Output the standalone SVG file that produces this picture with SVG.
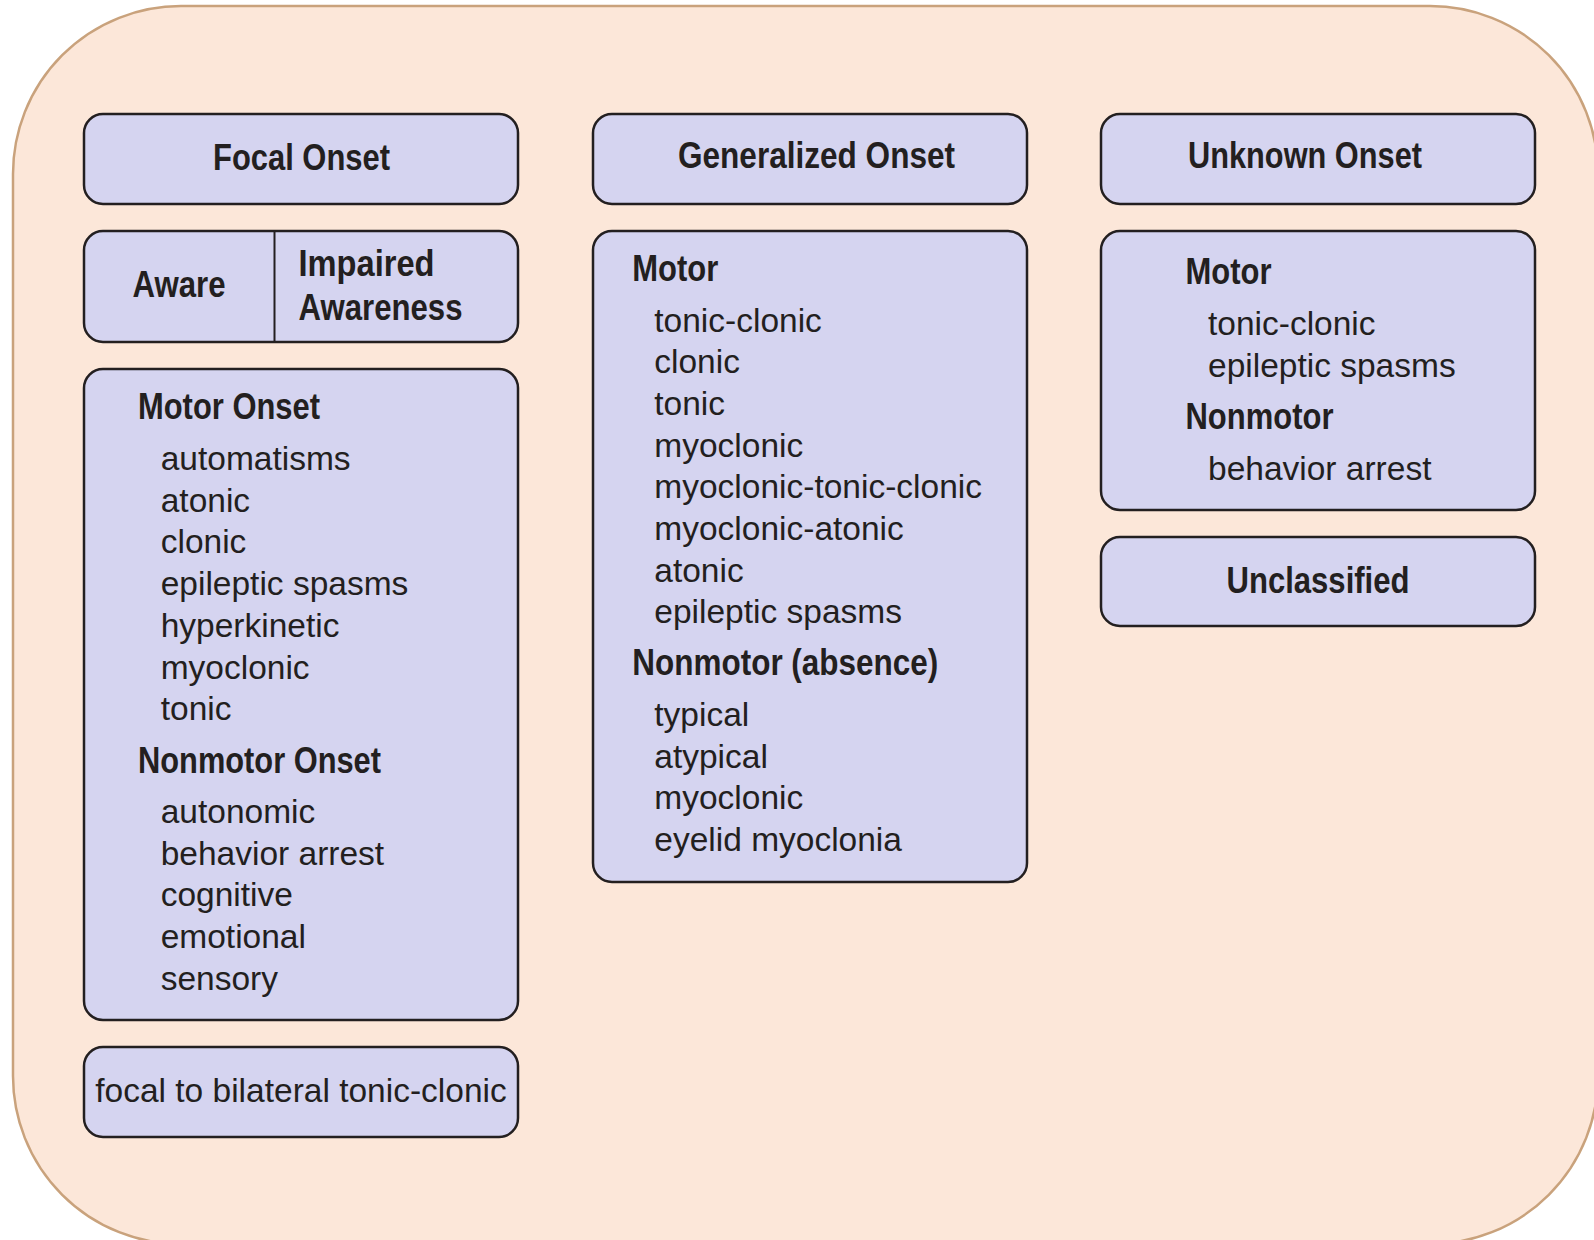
<svg xmlns="http://www.w3.org/2000/svg" width="1594" height="1240" viewBox="0 0 1594 1240">
<style>
.bg{fill:#fce7d9;stroke:#c9a27c;stroke-width:2.5}
.box{fill:#d5d4f0;stroke:#231f20;stroke-width:2.5}
.h{font-family:"Liberation Sans",Arial,sans-serif;font-weight:bold;font-size:36px;fill:#231f20}
.t{font-family:"Liberation Sans",Arial,sans-serif;font-size:33.5px;fill:#231f20}
.c{text-anchor:middle}
</style>
<rect class="bg" x="13" y="6" width="1585" height="1238" rx="168" ry="168"/>
<g id="focal-onset">
<rect class="box" x="84" y="114" width="434" height="90" rx="19"/>
<text class="h c" x="301.5" y="170" textLength="177" lengthAdjust="spacingAndGlyphs">Focal Onset</text>
</g>
<g id="awareness">
<rect class="box" x="84" y="231" width="434" height="111" rx="19"/>
<line x1="274.5" y1="231" x2="274.5" y2="342" stroke="#231f20" stroke-width="2"/>
<text class="h c" x="179" y="297" textLength="93" lengthAdjust="spacingAndGlyphs">Aware</text>
<text class="h" x="298.5" y="276" textLength="136" lengthAdjust="spacingAndGlyphs">Impaired</text>
<text class="h" x="298.5" y="319.5" textLength="164" lengthAdjust="spacingAndGlyphs">Awareness</text>
</g>
<g id="focal-types">
<rect class="box" x="84" y="369" width="434" height="651" rx="19"/>
<text class="h" x="138" y="419" textLength="182" lengthAdjust="spacingAndGlyphs">Motor Onset</text>
<text class="t" x="160.7" y="470">automatisms</text>
<text class="t" x="160.7" y="511.7">atonic</text>
<text class="t" x="160.7" y="553.4">clonic</text>
<text class="t" x="160.7" y="595.1">epileptic spasms</text>
<text class="t" x="160.7" y="636.8">hyperkinetic</text>
<text class="t" x="160.7" y="678.5">myoclonic</text>
<text class="t" x="160.7" y="720.2">tonic</text>
<text class="h" x="138" y="773" textLength="243" lengthAdjust="spacingAndGlyphs">Nonmotor Onset</text>
<text class="t" x="160.7" y="823">autonomic</text>
<text class="t" x="160.7" y="864.7">behavior arrest</text>
<text class="t" x="160.7" y="906.4">cognitive</text>
<text class="t" x="160.7" y="948.1">emotional</text>
<text class="t" x="160.7" y="989.8">sensory</text>
</g>
<g id="focal-bilateral">
<rect class="box" x="84" y="1047" width="434" height="90" rx="19"/>
<text class="t c" x="301" y="1102">focal to bilateral tonic-clonic</text>
</g>
<g id="generalized-onset">
<rect class="box" x="593" y="114" width="434" height="90" rx="19"/>
<text class="h c" x="816.5" y="168" textLength="277" lengthAdjust="spacingAndGlyphs">Generalized Onset</text>
</g>
<g id="generalized-types">
<rect class="box" x="593" y="231" width="434" height="651" rx="19"/>
<text class="h" x="632.3" y="280.7" textLength="86" lengthAdjust="spacingAndGlyphs">Motor</text>
<text class="t" x="654.3" y="331.5">tonic-clonic</text>
<text class="t" x="654.3" y="373.2">clonic</text>
<text class="t" x="654.3" y="414.9">tonic</text>
<text class="t" x="654.3" y="456.6">myoclonic</text>
<text class="t" x="654.3" y="498.3">myoclonic-tonic-clonic</text>
<text class="t" x="654.3" y="540">myoclonic-atonic</text>
<text class="t" x="654.3" y="581.7">atonic</text>
<text class="t" x="654.3" y="623.4">epileptic spasms</text>
<text class="h" x="632.3" y="675" textLength="306" lengthAdjust="spacingAndGlyphs">Nonmotor (absence)</text>
<text class="t" x="654.3" y="726">typical</text>
<text class="t" x="654.3" y="767.7">atypical</text>
<text class="t" x="654.3" y="809.4">myoclonic</text>
<text class="t" x="654.3" y="851.1">eyelid myoclonia</text>
</g>
<g id="unknown-onset">
<rect class="box" x="1101" y="114" width="434" height="90" rx="19"/>
<text class="h c" x="1305" y="168" textLength="234" lengthAdjust="spacingAndGlyphs">Unknown Onset</text>
</g>
<g id="unknown-types">
<rect class="box" x="1101" y="231" width="434" height="279" rx="19"/>
<text class="h" x="1185.5" y="284" textLength="86" lengthAdjust="spacingAndGlyphs">Motor</text>
<text class="t" x="1208" y="335">tonic-clonic</text>
<text class="t" x="1208" y="376.7">epileptic spasms</text>
<text class="h" x="1185.5" y="429" textLength="148" lengthAdjust="spacingAndGlyphs">Nonmotor</text>
<text class="t" x="1208" y="480">behavior arrest</text>
</g>
<g id="unclassified">
<rect class="box" x="1101" y="537" width="434" height="89" rx="19"/>
<text class="h c" x="1318" y="593" textLength="183" lengthAdjust="spacingAndGlyphs">Unclassified</text>
</g>
<g id="connectors"></g>
</svg>
